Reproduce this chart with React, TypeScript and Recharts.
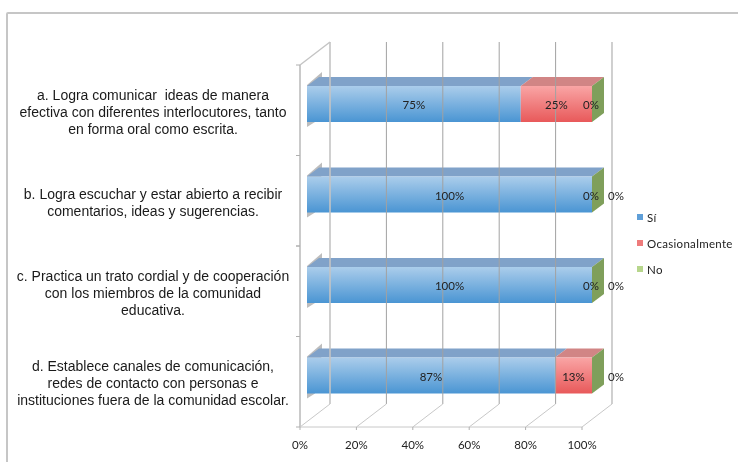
import { BarChart, Bar, XAxis, YAxis, Legend, LabelList } from "recharts";

const categories = [
  "a. Logra comunicar  ideas de manera\nefectiva con diferentes interlocutores, tanto\nen forma oral como escrita.",
  "b. Logra escuchar y estar abierto a recibir\ncomentarios, ideas y sugerencias.",
  "c. Practica un trato cordial y de cooperación\ncon los miembros de la comunidad\neducativa.",
  "d. Establece canales de comunicación,\nredes de contacto con personas e\ninstituciones fuera de la comunidad escolar.",
];
const si = [75, 100, 100, 87];
const ocasionalmente = [25, 0, 0, 13];
const no = [0, 0, 0, 0];
const xTicks = [0, 20, 40, 60, 80, 100];
const legendItems = [
  { name: "Sí", color: "#5f9fd8" },
  { name: "Ocasionalmente", color: "#ee7b7b" },
  { name: "No", color: "#b7d68c" },
];

const data = categories.map((name, i) => ({
  name,
  si: si[i],
  ocasionalmente: ocasionalmente[i],
  no: no[i],
}));

const PLOT_LEFT = 300;
const PLOT_TOP = 65;
const PLOT_BOTTOM = 427;
const DEPTH_X = 30;
const DEPTH_Y = 23;
// bars sit a little way into the floor, perspective makes them slightly longer
const BAR_DX = 7;
const BAR_DY = -6;
const BAR_STRETCH = 285 / 282;
const FACE_X = 12;
const FACE_Y = 9;
const CHART_FONT = "Lato, 'Open Sans', sans-serif";

const barX = (x: number) => PLOT_LEFT + BAR_DX + (x - PLOT_LEFT) * BAR_STRETCH;

function WallTick({ x, payload }: any) {
  const back = x + DEPTH_X;
  const floorY = PLOT_BOTTOM - DEPTH_Y;
  const topY = PLOT_TOP - DEPTH_Y;
  const isEdge = payload.value === 0 || payload.value === 100;
  return (
    <g>
      <line x1={back} y1={topY} x2={back} y2={floorY} stroke={isEdge ? "#c4c4c4" : "#a2a2a2"} strokeWidth={isEdge ? 1.6 : 1} />
      <line x1={x} y1={PLOT_BOTTOM} x2={back} y2={floorY} stroke="#c8c8c8" />
      <line x1={x} y1={PLOT_BOTTOM} x2={x} y2={PLOT_BOTTOM + 3} stroke="#b0b0b0" />
      {payload.value === 0 && (
        <line x1={x} y1={PLOT_TOP} x2={back} y2={topY} stroke="#c4c4c4" strokeWidth={1.4} />
      )}
      <text x={x} y={449} textAnchor="middle" fontSize={11.5} fontFamily={CHART_FONT} fill="#222">
        {payload.value}%
      </text>
    </g>
  );
}

function CategoryTick({ y, payload }: any) {
  const lines = String(payload.value).split("\n");
  const band = (PLOT_BOTTOM - PLOT_TOP) / categories.length;
  return (
    <g>
      <line x1={296} y1={y - band / 2} x2={300} y2={y - band / 2} stroke="#b0b0b0" />
      <line x1={296} y1={y + band / 2} x2={300} y2={y + band / 2} stroke="#b0b0b0" />
      <text
        x={153}
        textAnchor="middle"
        fontSize={14}
        fontFamily="'Liberation Sans', Arial, sans-serif"
        fill="#1a1a1a"
        style={{ whiteSpace: "pre" }}
      >
        {lines.map((line, i) => (
          <tspan key={i} x={153} y={y + 6.5 + (i - (lines.length - 1) / 2) * 17}>
            {line}
          </tspan>
        ))}
      </text>
    </g>
  );
}

function Face3D({ x, y, width, height, gradient, top, side, lip }: any) {
  const fx = barX(x);
  const fy = y + BAR_DY;
  const fx2 = barX(x + width);
  return (
    <g>
      {lip && (
        <polygon
          points={`${fx},${fy - 1} ${fx + 15},${fy - 14} ${fx + 15},${fy - 4} ${fx + 8},${fy + height} ${fx},${fy + height + 5}`}
          fill="#bdbdbd"
        />
      )}
      {width > 0 && (
        <>
          <polygon
            points={`${fx},${fy} ${fx + FACE_X},${fy - FACE_Y} ${fx2 + FACE_X},${fy - FACE_Y} ${fx2},${fy}`}
            fill={top}
          />
          <rect x={fx} y={fy} width={fx2 - fx} height={height} fill={`url(#${gradient})`} />
        </>
      )}
      {side && (
        <polygon
          points={`${fx2},${fy} ${fx2 + FACE_X},${fy - FACE_Y} ${fx2 + FACE_X},${fy + height - FACE_Y} ${fx2},${fy + height}`}
          fill={side}
        />
      )}
    </g>
  );
}

function BarLabel({ x, y, width, height, value, index, series }: any) {
  // the empty "No" labels are pushed out past the bar except on the first row
  const outside = series === "no" && index !== 0;
  const cx = barX(x + width / 2) - (width === 0 ? 1 : 0) + (outside ? 25 : 0);
  return (
    <text
      x={cx}
      y={y + BAR_DY + height / 2 + 5}
      textAnchor="middle"
      fontSize={11.5}
      fontFamily={CHART_FONT}
      fill="#222"
    >
      {value}%
    </text>
  );
}

function LegendBox() {
  return (
    <div style={{ fontFamily: CHART_FONT, fontSize: 11.5, color: "#222" }}>
      {legendItems.map((item) => (
        <div key={item.name} style={{ display: "flex", alignItems: "center", height: 26 }}>
          <span style={{ width: 6, height: 6, background: item.color, marginRight: 4, display: "inline-block" }} />
          <span style={{ letterSpacing: 0.3 }}>{item.name}</span>
        </div>
      ))}
    </div>
  );
}

export default function App() {
  return (
    <div style={{ position: "fixed", left: 0, top: 0, width: 738, height: 462, background: "#fff", overflow: "hidden", filter: "blur(0.35px)" }}>
      <div
        style={{
          position: "absolute",
          left: 6,
          top: 12,
          width: 740,
          height: 460,
          border: "2px solid #c6c6c6",
          borderRadius: 2,
        }}
      />
      <BarChart
        width={738}
        height={462}
        data={data}
        layout="vertical"
        margin={{ top: 65, right: 156, bottom: 0, left: 0 }}
        barSize={36}
        style={{ position: "absolute", left: 0, top: 0 }}
      >
        <defs>
          <linearGradient id="gradBlue" x1="0" y1="0" x2="0" y2="1">
            <stop offset="0%" stopColor="#abcdeb" />
            <stop offset="100%" stopColor="#4a95d3" />
          </linearGradient>
          <linearGradient id="gradRed" x1="0" y1="0" x2="0" y2="1">
            <stop offset="0%" stopColor="#f9a5a5" />
            <stop offset="100%" stopColor="#e8595a" />
          </linearGradient>
        </defs>
        <XAxis
          type="number"
          domain={[0, 100]}
          ticks={xTicks}
          height={35}
          axisLine={{ stroke: "#c8c8c8" }}
          tickLine={false}
          tick={<WallTick />}
          interval={0}
        />
        <YAxis
          type="category"
          dataKey="name"
          width={300}
          axisLine={{ stroke: "#bdbdbd", strokeWidth: 1.6 }}
          tickLine={false}
          tick={<CategoryTick />}
          interval={0}
        />
        <Legend
          layout="vertical"
          verticalAlign="middle"
          align="center"
          wrapperStyle={{ left: 637, top: 204, width: 100 }}
          content={<LegendBox />}
        />
        <Bar
          dataKey="si"
          stackId="a"
          isAnimationActive={false}
          shape={(p: any) => <Face3D {...p} gradient="gradBlue" top="#80a2c9" lip />}
        >
          <LabelList dataKey="si" content={<BarLabel series="si" />} />
        </Bar>
        <Bar
          dataKey="ocasionalmente"
          stackId="a"
          isAnimationActive={false}
          shape={(p: any) => <Face3D {...p} gradient="gradRed" top="#d18585" />}
        >
          <LabelList dataKey="ocasionalmente" content={<BarLabel series="ocasionalmente" />} />
        </Bar>
        <Bar
          dataKey="no"
          stackId="a"
          isAnimationActive={false}
          shape={(p: any) => <Face3D {...p} side="#7f9f5b" />}
        >
          <LabelList dataKey="no" content={<BarLabel series="no" />} />
        </Bar>
      </BarChart>
    </div>
  );
}
